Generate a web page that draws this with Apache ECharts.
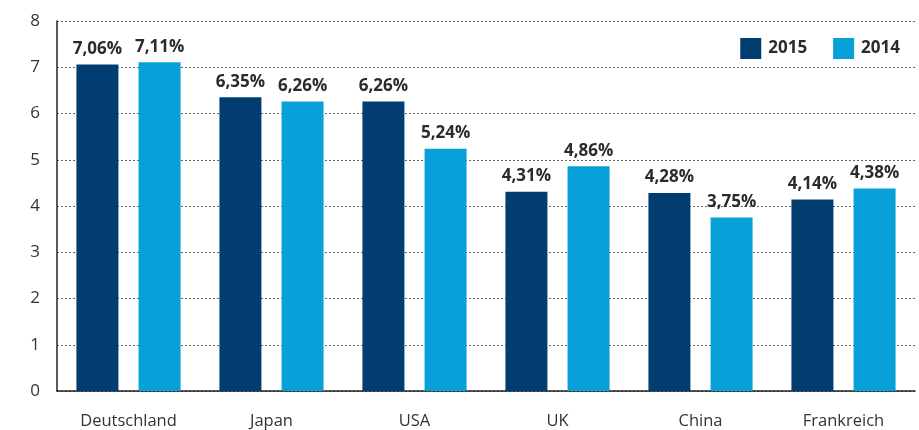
<!DOCTYPE html>
<html>
<head>
<meta charset="utf-8">
<script src="https://cdn.jsdelivr.net/npm/echarts@6/dist/echarts.min.js"></script>
<style>
  html, body { margin: 0; padding: 0; background: #fff; }
  #chart { width: 919px; height: 430px; }
</style>
</head>
<body>
<div id="chart"></div>
<script>
// Länder und Werte
const countries = ['Deutschland', 'Japan', 'USA', 'UK', 'China', 'Frankreich'];
const values2015 = [7.06, 6.35, 6.26, 4.31, 4.28, 4.14];
const values2014 = [7.11, 6.26, 5.24, 4.86, 3.75, 4.38];
const yTicks = [0, 1, 2, 3, 4, 5, 6, 7, 8];

const font = '"Open Sans", "Noto Sans", sans-serif';

function pct(p) {
    return p.value.toFixed(2).replace('.', ',') + '%';
}

let chart = echarts.init(document.getElementById('chart'));

let labelStyle = {
    show: true,
    position: 'top',
    distance: 7,
    formatter: pct,
    fontFamily: font,
    fontSize: 17,
    fontWeight: 'bold',
    color: '#2b2b2b'
};

let option = {
    animation: false,
    grid: { left: 57, right: 4, top: 21, bottom: 38 },
    legend: {
        right: 14,
        top: 33,
        itemWidth: 21,
        itemHeight: 21,
        itemGap: 26,
        icon: 'rect',
        textStyle: { fontFamily: font, fontSize: 17, fontWeight: 'bold', color: '#2b2b2b', padding: [0, 0, 0, 2] },
        data: ['2015', '2014']
    },
    xAxis: {
        type: 'category',
        data: countries,
        axisLine: { lineStyle: { color: '#222', width: 1.5 } },
        axisTick: { show: false },
        axisLabel: { fontFamily: font, fontSize: 16.5, color: '#333', margin: 22 }
    },
    yAxis: {
        type: 'value',
        min: yTicks[0],
        max: yTicks[yTicks.length - 1],
        interval: 1,
        axisLine: { show: true, lineStyle: { color: '#222', width: 1.5 } },
        axisTick: { show: false },
        axisLabel: { fontFamily: font, fontSize: 17, color: '#333', margin: 17 },
        splitLine: { lineStyle: { color: '#666', type: [2, 2], width: 1 } }
    },
    series: [
        {
            name: '2015',
            type: 'bar',
            data: values2015,
            barWidth: 42,
            barGap: '48%',
            itemStyle: { color: '#023d72' },
            label: labelStyle
        },
        {
            name: '2014',
            type: 'bar',
            data: values2014,
            barWidth: 42,
            itemStyle: { color: '#08a0d8' },
            label: labelStyle
        }
    ]
};

chart.setOption(option);
</script>
</body>
</html>
